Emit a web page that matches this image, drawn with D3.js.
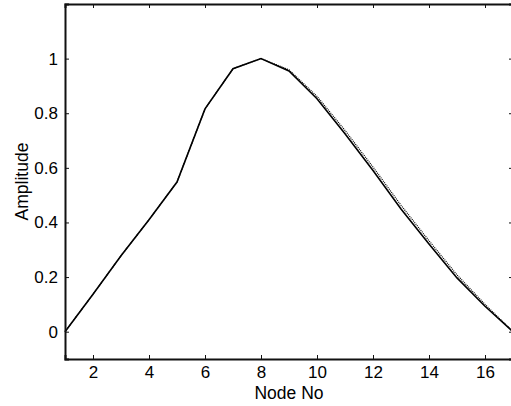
<!DOCTYPE html>
<html lang="en">
  <head>
    <meta charset="UTF-8" />
    <title>Amplitude vs Node No</title>
    <script src="https://d3js.org/d3.v7.min.js"></script>
    <style>
      body { margin: 0; background: #fff; }
      svg text { font-family: "Liberation Sans", Arial, sans-serif; fill: #000; }
    </style>
  </head>
  <body>
    <div class="chart"></div>
    <script>
      // node numbers and the two amplitude curves
      const nodes = [1, 2, 3, 4, 5, 6, 7, 8, 9, 10, 11, 12, 13, 14, 15, 16, 17];
      const solid = [0, 0.137, 0.278, 0.41, 0.548, 0.816, 0.963, 1.0, 0.955, 0.853,
                     0.725, 0.59, 0.449, 0.321, 0.197, 0.093, 0];
      const dotted = [0, 0.137, 0.278, 0.41, 0.548, 0.816, 0.963, 1.0, 0.959, 0.862,
                      0.737, 0.603, 0.463, 0.333, 0.208, 0.1, 0];
      const xTicks = [2, 4, 6, 8, 10, 12, 14, 16];
      const yTicks = [0, 0.2, 0.4, 0.6, 0.8, 1];

      let width = 511, height = 406;
      let margin = { left: 65, right: -2, top: 4, bottom: 47 };

      let svg = d3.select(".chart").append("svg")
        .attr("width", width)
        .attr("height", height);

      let x = d3.scaleLinear().domain([1, 17])
        .range([margin.left, width - margin.right]);
      let y = d3.scaleLinear().domain([-0.1, 1.2])
        .range([height - margin.bottom, margin.top]);

      let g = svg.append("g");

      // lines
      let line = d3.line().x((d, i) => x(nodes[i])).y(d => y(d));
      g.append("path").datum(dotted)
        .attr("d", line)
        .attr("fill", "none")
        .attr("stroke", "#000")
        .attr("stroke-width", 1.2)
        .attr("stroke-dasharray", "1,1");
      g.append("path").datum(solid)
        .attr("d", line)
        .attr("fill", "none")
        .attr("stroke", "#000")
        .attr("stroke-width", 1.6);

      // axes, ticks pointing inward like matlab
      let axBottom = svg.append("g")
        .attr("transform", `translate(0,${y(-0.1)})`)
        .call(d3.axisBottom(x).tickValues(xTicks).tickSize(-4).tickPadding(7)
          .tickFormat(d3.format("d")));
      let axTop = svg.append("g")
        .attr("transform", `translate(0,${y(1.2)})`)
        .call(d3.axisTop(x).tickValues(xTicks).tickSize(-4).tickFormat(""));
      let axLeft = svg.append("g")
        .attr("transform", `translate(${x(1)},0)`)
        .call(d3.axisLeft(y).tickValues(yTicks).tickSize(-4).tickPadding(7)
          .tickFormat(d => d === 0 || d === 1 ? d3.format("d")(d) : d3.format(".1f")(d)));
      let axRight = svg.append("g")
        .attr("transform", `translate(${x(17)},0)`)
        .call(d3.axisRight(y).tickValues(yTicks).tickSize(-4).tickFormat(""));

      [axBottom, axTop, axLeft, axRight].forEach(a => {
        a.select(".domain").attr("stroke", "#111").attr("stroke-width", 2);
        a.selectAll(".tick line").attr("stroke", "#111").attr("stroke-width", 1);
        a.selectAll("text")
          .attr("font-size", 17)
          .attr("font-family", "Liberation Sans, Arial, sans-serif");
      });

      svg.append("text")
        .attr("x", (x(1) + x(17)) / 2)
        .attr("y", 399)
        .attr("text-anchor", "middle")
        .attr("font-size", 17.5)
        .text("Node No");

      svg.append("text")
        .attr("transform", `translate(28,${(y(-0.1) + y(1.2)) / 2}) rotate(-90)`)
        .attr("text-anchor", "middle")
        .attr("font-size", 17.5)
        .text("Amplitude");
    </script>
  </body>
</html>
